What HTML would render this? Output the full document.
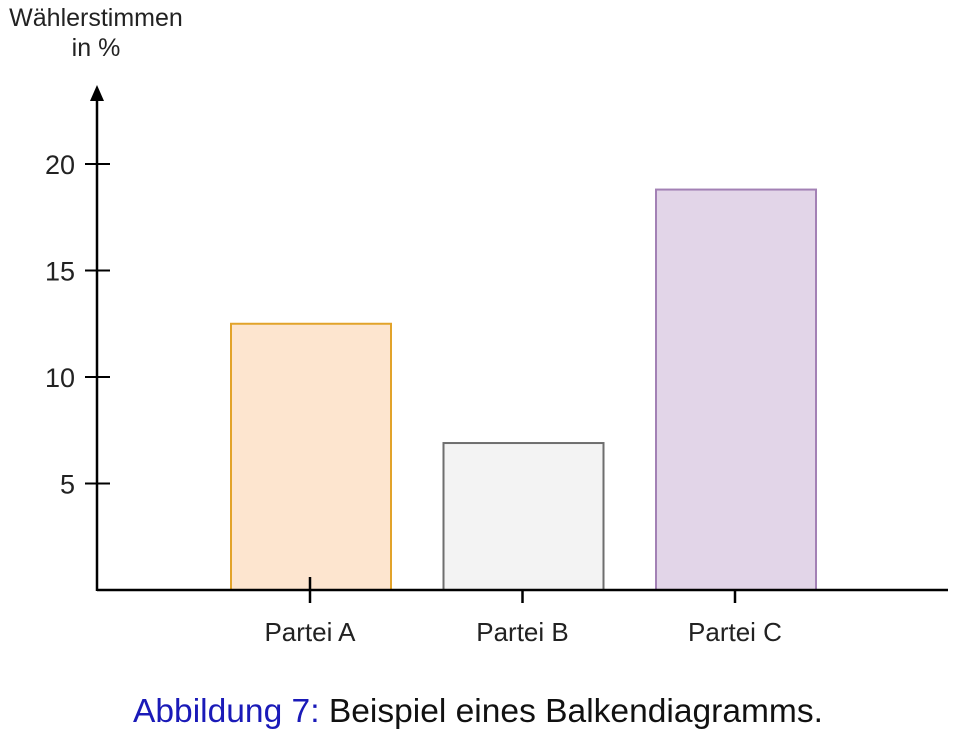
<!DOCTYPE html>
<html><head><meta charset="utf-8"><style>
html,body{margin:0;padding:0;background:#fff;}
svg{display:block;font-family:"Liberation Sans",sans-serif;}
</style></head><body>
<svg id="chart" width="960" height="732" viewBox="0 0 960 732">
<text x="96" y="26" font-size="25" text-anchor="middle" fill="#222">Wählerstimmen</text>
<text x="96" y="56" font-size="25" text-anchor="middle" fill="#222">in %</text>
<g id="bars"></g>
<g id="axes"></g>
<text x="478" y="722" font-size="33" text-anchor="middle" fill="#111" textLength="690" lengthAdjust="spacingAndGlyphs"><tspan fill="#1a1ab8">Abbildung 7:</tspan> Beispiel eines Balkendiagramms.</text>
</svg>
<script>
const categories = ["Partei A", "Partei B", "Partei C"];
const values = [12.5, 6.9, 18.8];
const yTicks = [5, 10, 15, 20];
const fills = ["#fde5cf", "#f3f3f3", "#e2d5e8"];
const strokes = ["#e2a32a", "#6e6e6e", "#a381b5"];
const NS = "http://www.w3.org/2000/svg";
const x0 = 97, y0 = 590, pxPerUnit = 21.3;
const yScale = v => y0 - v * pxPerUnit;
const xCenter = i => 311 + i * 212.5;
const barW = 160;
function mk(tag, attrs, parent) {
  const e = document.createElementNS(NS, tag);
  for (const k in attrs) e.setAttribute(k, attrs[k]);
  parent.appendChild(e);
  return e;
}
const bars = document.getElementById('bars');
const axes = document.getElementById('axes');
values.forEach((v, i) => {
  const r = mk('rect', {x: xCenter(i) - barW/2, y: yScale(v), width: barW, height: y0 - yScale(v), fill: fills[i], stroke: strokes[i], 'stroke-width': 2}, bars);
  
  
});
let l = mk('line', {x1: x0, y1: y0, x2: 948, y2: y0, stroke: '#000', 'stroke-width': 2.5}, axes);


l = mk('line', {x1: x0, y1: y0 + 1, x2: x0, y2: 98, stroke: '#000', 'stroke-width': 2.5}, axes);


const ar = mk('polygon', {points: `${x0-7},101 ${x0+7},101 ${x0},85`, fill: '#000'}, axes);


yTicks.forEach(t => {
  const y = yScale(t);
  const tk = mk('line', {x1: 85, y1: y, x2: 110, y2: y, stroke: '#000', 'stroke-width': 2}, axes);
  
  
  const tx = mk('text', {x: 75, y: y + 10, 'font-size': 27, 'text-anchor': 'end', fill: '#222'}, axes);
  tx.textContent = t;
  
  
});
categories.forEach((c, i) => {
  const x = xCenter(i) - 1;
  const tk = mk('line', {x1: x, y1: i === 0 ? 577 : y0, x2: x, y2: 603, stroke: '#000', 'stroke-width': 2.5}, axes);
  
  
  const tx = mk('text', {x: x, y: 641, 'font-size': 26, 'text-anchor': 'middle', fill: '#222'}, axes);
  tx.textContent = c;
  
  
});
</script>
</body></html>
